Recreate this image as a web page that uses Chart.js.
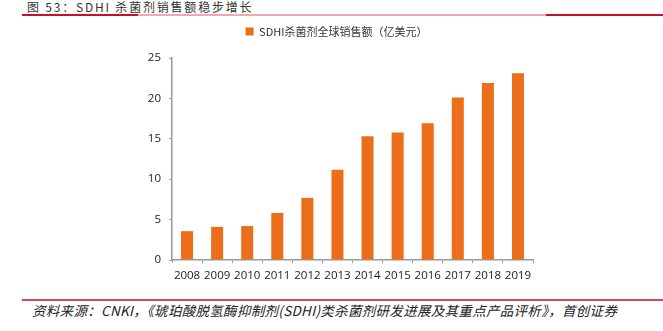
<!DOCTYPE html>
<html>
<head>
<meta charset="utf-8">
<script src="https://cdn.jsdelivr.net/npm/chart.js@4/dist/chart.umd.min.js"></script>
<style>
    body { margin: 0; width: 663px; height: 331px; background: #fff; position: relative; overflow: hidden; font-family: "Noto Sans CJK SC", sans-serif; }
    #title { position: absolute; left: 27px; top: -2px; font-size: 12px; color: #333; letter-spacing: 1.8px; }
    .rule { position: absolute; height: 2px; }
    #chart-box { position: absolute; left: 0; top: 16px; width: 663px; height: 274px; }
    #source { position: absolute; left: 32px; top: 300px; font-size: 13.5px; font-style: italic; color: #222; white-space: nowrap; letter-spacing: 0.3px; }
</style>
</head>
<body>
<div id="title">图 53：SDHI 杀菌剂销售额稳步增长</div>
<div class="rule" style="left:22px; top:14px; width:641px; background:#f4a6ae;"></div>
<div class="rule" style="left:22px; top:14px; width:116px; background:#c8102e;"></div>
<div class="rule" style="left:546px; top:14px; width:117px; background:#c8102e;"></div>
<div id="chart-box"><canvas id="salesChart"></canvas></div>
<div class="rule" style="left:22px; top:299px; width:641px; height:2px; background:#e0414f;"></div>
<div id="source">资料来源：CNKI，《琥珀酸脱氢酶抑制剂(SDHI)类杀菌剂研发进展及其重点产品评析》，首创证券</div>

<script>
const years = ['2008', '2009', '2010', '2011', '2012', '2013', '2014', '2015', '2016', '2017', '2018', '2019'];
const sales = [3.57, 4.1, 4.2, 5.83, 7.69, 11.18, 15.33, 15.78, 16.93, 20.1, 21.9, 23.1];
const seriesName = 'SDHI杀菌剂全球销售额（亿美元）';
const yTicks = [0, 5, 10, 15, 20, 25];

// push the plot area down a little below the legend
const legendMargin = {
    id: 'legendMargin',
    beforeInit(chart) {
        const fit = chart.legend.fit;
        chart.legend.fit = function () {
            fit.bind(chart.legend)();
            this.height += 11;
        };
    }
};

const ctx = document.getElementById('salesChart').getContext('2d');
const salesChart = new Chart(ctx, {
    type: 'bar',
    data: {
        labels: years,
        datasets: [{
            label: seriesName,
            data: sales,
            backgroundColor: '#ec6e1b',
            borderWidth: 0,
            barPercentage: 0.8,
            categoryPercentage: 0.5
        }]
    },
    plugins: [legendMargin],
    options: {
        responsive: true,
        maintainAspectRatio: false,
        animation: false,
        layout: {
            padding: { left: 140, right: 130, top: 0, bottom: 0 }
        },
        plugins: {
            legend: {
                display: true,
                labels: {
                    boxWidth: 8,
                    boxHeight: 8,
                    padding: 10,
                    color: '#333',
                    font: { family: '"Noto Sans CJK SC"', size: 11 }
                }
            },
            tooltip: { enabled: false }
        },
        scales: {
            x: {
                grid: { display: true, drawOnChartArea: false, offset: true, tickLength: 3, color: '#999' },
                border: { color: '#999', width: 1.5 },
                ticks: {
                    color: '#222',
                    padding: 6,
                    autoSkip: false,
                    maxRotation: 0,
                    minRotation: 0,
                    font: { family: '"Liberation Sans Narrow", "Open Sans"', size: 11.5 }
                },
                afterFit: (scale) => { scale.height = 30; }
            },
            y: {
                min: 0,
                max: 25,
                grid: { display: true, drawOnChartArea: false, tickLength: 3, color: '#999' },
                border: { color: '#999', width: 1.5 },
                afterBuildTicks: (scale) => { scale.ticks = yTicks.map(v => ({ value: v })); },
                ticks: {
                    color: '#222',
                    padding: 8,
                    font: { family: '"Liberation Sans Narrow", "Open Sans"', size: 11.5 }
                },
                afterFit: (scale) => { scale.width = 32; }
            }
        }
    }
});
</script>
</body>
</html>
